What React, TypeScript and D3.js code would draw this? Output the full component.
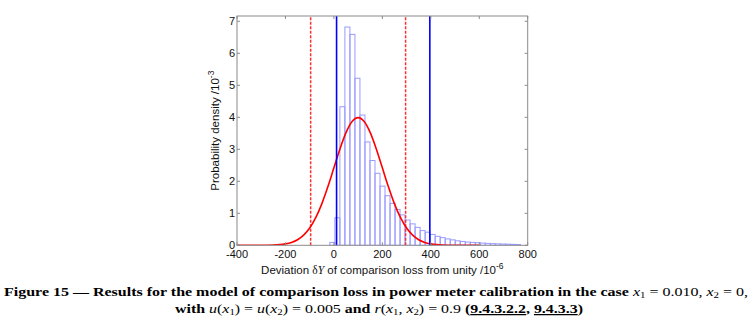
import React from "react";
import * as d3 from "d3";

// ---- data ----
const xTicks = [-400, -200, 0, 200, 400, 600, 800];
const yTicks = [0, 1, 2, 3, 4, 5, 6, 7];

// histogram (Monte Carlo), densities /10^-3
const binStart = -16.7;
const binWidth = 20.7;
const binHeights = [
  0.09, 0.86, 4.33, 6.82, 6.59, 5.22, 4.07, 3.23, 2.65, 2.25, 1.85, 1.55, 1.31,
  1.12, 0.95, 0.79, 0.67, 0.56, 0.46, 0.41, 0.34, 0.28, 0.24, 0.2, 0.17, 0.14,
  0.12, 0.1, 0.09, 0.08, 0.07, 0.06, 0.05, 0.045, 0.04, 0.035, 0.03, 0.025,
];

// Gaussian (GUM) pdf, /10^-3
const curveX = [
  -400, -375, -350, -325, -300, -275, -250, -225, -200, -175, -150, -125, -100,
  -75, -50, -25, 0, 25, 50, 75, 100, 125, 150, 175, 200, 225, 250, 275, 300, 325,
  350, 375, 400, 425, 450, 475, 500, 525, 550, 575, 600,
];
const curveY = [
  0.0, 0.00005, 0.00016, 0.00048, 0.00134, 0.00353, 0.00873, 0.0203, 0.0443,
  0.0909, 0.1753, 0.3174, 0.5399, 0.8628, 1.2952, 1.8265, 2.4197, 3.0114, 3.5207,
  3.8667, 3.9894, 3.8667, 3.5207, 3.0114, 2.4197, 1.8265, 1.2952, 0.8628, 0.5399,
  0.3174, 0.1753, 0.0909, 0.0443, 0.0203, 0.00873, 0.00353, 0.00134, 0.00048,
  0.00016, 0.00005, 0.0,
];

const gumInterval = [-96, 296];
const mcInterval = [11, 396];

// ---- layout ----
const W = 754;
const H = 334;
const left = 237;
const right = 527.7;
const top = 16;
const bottom = 245.3;

export default function App() {
  const x = d3.scaleLinear().domain([-400, 800]).range([left, right]);
  const y = d3.scaleLinear().domain([0, 7.165]).range([bottom, top]);

  const line = d3
    .line<number>()
    .x((_, i) => x(curveX[i]))
    .y((d) => y(d))
    .curve(d3.curveMonotoneX);

  const axisColor = "#8a8a8a";
  const tickLen = 3;
  const font = "'Liberation Sans', Arial, Helvetica, sans-serif";
  const serif = "'Liberation Serif', 'Times New Roman', serif";

  return (
    <svg
      width={W}
      height={H}
      style={{ position: "absolute", left: 0, top: 0, background: "#fff" }}
      xmlns="http://www.w3.org/2000/svg"
    >
      <defs>
        <clipPath id="plotclip">
          <rect x={left} y={top} width={right - left} height={bottom - top} />
        </clipPath>
      </defs>
      <rect x={0} y={0} width={W} height={H} fill="#fff" />

      {/* histogram */}
      <g clipPath="url(#plotclip)">
        {binHeights.map((h, i) => {
          const x0 = x(binStart + i * binWidth);
          const x1 = x(binStart + (i + 1) * binWidth);
          return (
            <rect
              key={i}
              x={x0}
              y={y(h)}
              width={x1 - x0}
              height={bottom - y(h)}
              fill="none"
              stroke="#9a9aff"
              strokeWidth={1}
            />
          );
        })}
      </g>

      {/* red dashed GUM interval */}
      {gumInterval.map((v, i) => (
        <line
          key={"g" + i}
          x1={x(v)}
          x2={x(v)}
          y1={bottom}
          y2={top}
          stroke="#ff3030"
          strokeWidth={1.5}
          strokeDasharray="3,1.5"
        />
      ))}

      {/* red Gaussian */}
      <path
        d={line(curveY) || ""}
        fill="none"
        stroke="#ff0000"
        strokeWidth={1.6}
        clipPath="url(#plotclip)"
      />

      {/* blue MC interval */}
      {mcInterval.map((v, i) => (
        <line
          key={"m" + i}
          x1={x(v)}
          x2={x(v)}
          y1={bottom}
          y2={top}
          stroke="#0000ff"
          strokeWidth={1.6}
        />
      ))}

      {/* frame */}
      <rect
        x={left}
        y={top}
        width={right - left}
        height={bottom - top}
        fill="none"
        stroke={axisColor}
        strokeWidth={1}
      />
      {xTicks.map((t) => (
        <g key={"xt" + t}>
          <line x1={x(t)} x2={x(t)} y1={bottom} y2={bottom - tickLen} stroke={axisColor} />
          <line x1={x(t)} x2={x(t)} y1={top} y2={top + tickLen} stroke={axisColor} />
          <text
            x={x(t)}
            y={bottom + 13}
            textAnchor="middle"
            fontFamily={font}
            fontSize={11}
            fill="#111"
          >
            {t}
          </text>
        </g>
      ))}
      {yTicks.map((t) => (
        <g key={"yt" + t}>
          <line x1={left} x2={left + tickLen} y1={y(t)} y2={y(t)} stroke={axisColor} />
          <line x1={right} x2={right - tickLen} y1={y(t)} y2={y(t)} stroke={axisColor} />
          <text
            x={left - 2}
            y={y(t) + 3.5}
            textAnchor="end"
            fontFamily={font}
            fontSize={11}
            fill="#111"
          >
            {t}
          </text>
        </g>
      ))}

      {/* y label */}
      <text
        transform={`translate(${219},${(top + bottom) / 2}) rotate(-90)`}
        textAnchor="middle"
        fontFamily={font}
        fontSize={11.5}
        fill="#111"
      >
        Probability density /10
        <tspan fontSize={8.5} dy={-5}>
          -3
        </tspan>
      </text>

      {/* x label */}
      <text
        x={(left + right) / 2}
        y={274}
        textAnchor="middle"
        fontFamily={font}
        fontSize={11.5}
        fill="#111"
      >
        Deviation{" "}
        <tspan fontFamily={serif}>δ</tspan>
        <tspan fontFamily={serif} fontStyle="italic">
          Y
        </tspan>
        {"  of comparison loss from unity /10"}
        <tspan fontSize={8.5} dy={-5}>
          -6
        </tspan>
      </text>

      {/* caption */}
      <text
        x={4}
        y={296}
        fontFamily={serif}
        fontSize={12.5}
        fill="#000"
        textLength={744}
        lengthAdjust="spacingAndGlyphs"
      >
        <tspan fontWeight="bold">
          Figure 15 — Results for the model of comparison loss in power meter calibration in the case{" "}
        </tspan>
        <tspan fontStyle="italic">x</tspan>
        <tspan fontSize={8.5} dy={2}>1</tspan>
        <tspan dy={-2}> = 0.010, </tspan>
        <tspan fontStyle="italic">x</tspan>
        <tspan fontSize={8.5} dy={2}>2</tspan>
        <tspan dy={-2}> = 0,</tspan>
      </text>
      <text
        x={175}
        y={313}
        fontFamily={serif}
        fontSize={12.5}
        fill="#000"
        textLength={408}
        lengthAdjust="spacingAndGlyphs"
      >
        <tspan fontWeight="bold">with </tspan>
        <tspan fontStyle="italic">u</tspan>
        <tspan>(</tspan>
        <tspan fontStyle="italic">x</tspan>
        <tspan fontSize={8.5} dy={2}>1</tspan>
        <tspan dy={-2}>) = </tspan>
        <tspan fontStyle="italic">u</tspan>
        <tspan>(</tspan>
        <tspan fontStyle="italic">x</tspan>
        <tspan fontSize={8.5} dy={2}>2</tspan>
        <tspan dy={-2}>) = 0.005 </tspan>
        <tspan fontWeight="bold">and </tspan>
        <tspan fontStyle="italic">r</tspan>
        <tspan>(</tspan>
        <tspan fontStyle="italic">x</tspan>
        <tspan fontSize={8.5} dy={2}>1</tspan>
        <tspan dy={-2}>, </tspan>
        <tspan fontStyle="italic">x</tspan>
        <tspan fontSize={8.5} dy={2}>2</tspan>
        <tspan dy={-2}>) = 0.9 </tspan>
        <tspan fontWeight="bold">(</tspan>
        <tspan fontWeight="bold" textDecoration="underline">9.4.3.2.2</tspan>
        <tspan fontWeight="bold">, </tspan>
        <tspan fontWeight="bold" textDecoration="underline">9.4.3.3</tspan>
        <tspan fontWeight="bold">)</tspan>
      </text>
    </svg>
  );
}
